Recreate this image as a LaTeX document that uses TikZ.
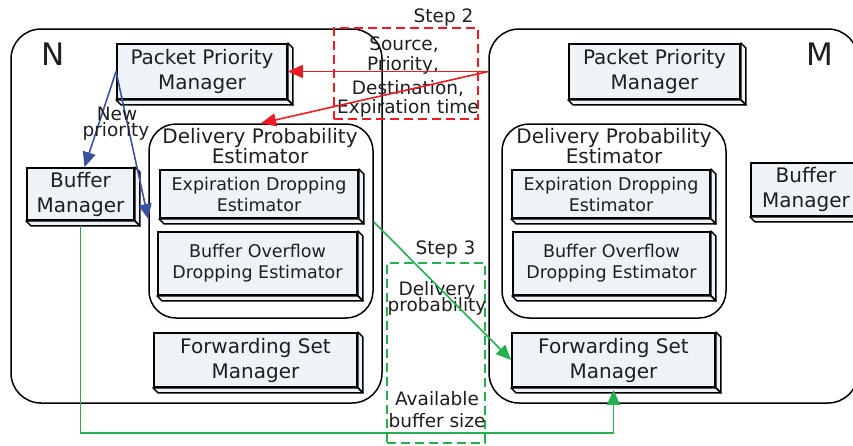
\documentclass[tikz,border=0pt]{standalone}
\usepackage{fontspec}
\setmainfont{DejaVu Sans}
\usetikzlibrary{arrows.meta,calc}

\definecolor{boxfill}{HTML}{EEF3F8}
\definecolor{sigred}{HTML}{ED1C24}
\definecolor{sigblue}{HTML}{3C50A0}
\definecolor{siggreen}{HTML}{22B14C}

\tikzset{
  region/.style={draw=black, line width=1.5pt, rounded corners=30pt, inner sep=0pt},
  subregion/.style={draw=black, line width=1.5pt, rounded corners=27pt, inner sep=0pt},
  modfront/.style={draw=black, fill=boxfill, line width=1.9pt, inner sep=0pt, align=center, text=black!88},
  bevel/.style={draw=black, fill=boxfill, line width=1.5pt, line join=round},
  bigfont/.style={font=\fontsize{20}{25}\selectfont},
  smallfont/.style={font=\fontsize{17.5}{21}\selectfont},
  labelfont/.style={font=\fontsize{18.5}{21}\selectfont, text=black!88},
  stepbox/.style={dashed, dash pattern=on 9pt off 5pt, line width=1.5pt},
  sigline/.style={line width=1.6pt, -{Triangle[length=15pt,width=13pt]}},
}

% rounded container: name, x0, y0, x1, y1, style
\newcommand\regionbox[6]{%
  \node[#6, minimum width={(#4-#2)*1pt}, minimum height={(#5-#3)*1pt}]
    (#1) at ({(#2+#4)/2},{(#3+#5)/2}) {};}

% bevelled module box: name, x0, y0, x1, y1, font style, text
\newcommand\modbox[7]{%
  \node[modfront, #6, minimum width={(#4-#2)*1pt}, minimum height={(#5-#3)*1pt}]
    (#1) at ({(#2+#4)/2},{(#3+#5)/2}) {#7};
  \filldraw[bevel] (#1.north east) -- ++(5,5) -- ($(#1.south east)+(5,5)$)
    -- (#1.south east) -- cycle;
  \filldraw[bevel] (#1.south west) -- ++(5,5) -- ($(#1.south east)+(5,5)$)
    -- (#1.south east) -- cycle;}

\begin{document}
\begin{tikzpicture}[x=1pt, y=-1pt]
\useasboundingbox (0,0) rectangle (853,445);

% node containers
\regionbox{N}{11}{29}{382}{403}{region}
\regionbox{M}{489}{29}{858}{403}{region}
\node[font=\fontsize{31}{31}\selectfont, text=black!88] (Nlabel) at (53,54.5) {N};
\node[font=\fontsize{31}{31}\selectfont, text=black!88] (Mlabel) at (820,54.5) {M};

% node N
\modbox{ppmN}{117}{44}{287}{99}{bigfont}{Packet Priority\\Manager}
\regionbox{dpeN}{149}{124}{373}{318}{subregion}
\node[bigfont, text=black!88, anchor=base] (dpeNt1) at (260,143) {Delivery Probability};
\node[bigfont, text=black!88, anchor=base] (dpeNt2) at (260,163) {Estimator};
\modbox{edeN}{160}{170}{358}{218}{smallfont}{Expiration Dropping\\Estimator}
\modbox{bodeN}{158}{232}{357}{295}{smallfont}{Buffer Overflow\\Dropping Estimator}
\modbox{fsmN}{154}{333}{357}{387}{bigfont}{Forwarding Set\\Manager}
\modbox{bmN}{27}{168}{134}{220}{bigfont}{Buffer\\Manager}

% node M
\modbox{ppmM}{569}{44}{740}{99}{bigfont}{Packet Priority\\Manager}
\regionbox{dpeM}{502}{124}{726}{318}{subregion}
\node[bigfont, text=black!88, anchor=base] (dpeMt1) at (614,143) {Delivery Probability};
\node[bigfont, text=black!88, anchor=base] (dpeMt2) at (614,163) {Estimator};
\modbox{edeM}{512}{170}{710}{218}{smallfont}{Expiration Dropping\\Estimator}
\modbox{bodeM}{513}{232}{710}{295}{smallfont}{Buffer Overflow\\Dropping Estimator}
\modbox{fsmM}{512}{333}{715}{387}{bigfont}{Forwarding Set\\Manager}
\modbox{bmM}{751}{163}{861}{216}{bigfont}{Buffer\\Manager}

% step 2: metadata exchange
\regionbox{step2}{334}{28}{478}{119}{draw=sigred, stepbox}
\node[labelfont, anchor=base east] (step2t) at (477,22) {Step 2};
\node[labelfont, anchor=base] (s2a) at (404,50) {Source,};
\node[labelfont, anchor=base] (s2b) at (403,70) {Priority,};
\node[labelfont, anchor=base] (s2c) at (408,94) {Destination,};
\node[labelfont, anchor=base] (s2d) at (408,113) {Expiration time};

\coordinate (mIn) at (M.west |- ppmN.east);
\draw[sigline, draw=sigred] (mIn) -- (ppmN.east);
\draw[sigline, draw=sigred] (mIn) -- (dpeN.north);

% new priority inside N
\draw[sigline, draw=sigblue] (ppmN.west) -- ($(bmN.north)+(4,0)$);
\draw[sigline, draw=sigblue] (ppmN.west) -- (dpeN.west |- edeN.south);
\node[labelfont, anchor=base] (np1) at (117,120) {New};
\node[labelfont, anchor=base] (np2) at (116,136) {priority};

% step 3: probability and buffer size
\regionbox{step3}{387}{263}{485}{443}{draw=siggreen, stepbox}
\node[labelfont, anchor=base east] (step3t) at (479,254) {Step 3};
\node[labelfont, anchor=base] (s3a) at (437,295) {Delivery};
\node[labelfont, anchor=base] (s3b) at (437,311) {probability};
\node[labelfont, anchor=base] (s3c) at (437,405) {Available};
\node[labelfont, anchor=base] (s3d) at (437,427) {buffer size};

\coordinate (bus) at (0,433);
\draw[sigline, draw=siggreen] ($(dpeN.east |- edeN.south)+(0,3)$) -- (fsmM.west);
\draw[sigline, draw=siggreen] ($(bmN.south)+(0,5)$) -- (bmN.south |- bus)
  -| ($(fsmM.south)+(0,2)$);
\end{tikzpicture}
\end{document}
